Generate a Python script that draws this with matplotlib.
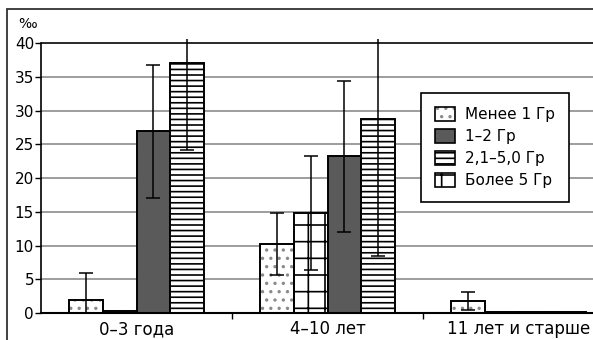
import numpy as np
import matplotlib.pyplot as plt
from matplotlib.patches import Patch, Rectangle
from matplotlib.legend_handler import HandlerTuple

plt.rcParams['font.family'] = ['DejaVu Sans']
plt.rcParams['hatch.linewidth'] = 1.2

# данные
categories = ['0–3 года', '4–10 лет', '11 лет и старше']
labels = ['Менее 1 Гр', '1–2 Гр', '2,1–5,0 Гр', 'Более 5 Гр']

less1 = [2.0, 10.2, 1.8]
less1_err = [3.9, 4.6, 1.3]
g1_2 = [26.9, 23.2, 0.15]
g1_2_err = [9.9, 11.2, 0.0]
g2_5 = [37.1, 28.8, 0.15]
g2_5_err = [13.0, 20.4, 0.0]
more5 = [0.3, 14.8, 0.15]
more5_err = [0.0, 8.5, 0.0]

W, H = 593, 340
fig = plt.figure(figsize=(W / 100, H / 100), dpi=100)
ax = fig.add_axes([41 / W, 27 / H, 3 * 191 / W, 274 / H])

x = np.arange(len(categories))
w = 0.178

# порядок столбцов в группе: <1, >5, 1-2, 2.1-5
series = [
    (less1, less1_err, -1.5, dict(facecolor='white', hatch='..')),
    (more5, more5_err, -0.5, dict(facecolor='white', hatch='+')),
    (g1_2, g1_2_err, 0.5, dict(facecolor='#5a5a5a')),
    (g2_5, g2_5_err, 1.5, dict(facecolor='white', hatch='---')),
]

for vals, errs, off, style in series:
    pos = x + off * w
    if style.get('hatch') == '..':
        ax.bar(pos, vals, w, edgecolor='#8a8a8a', linewidth=0, zorder=2, **style)
        ax.bar(pos, vals, w, facecolor='none', edgecolor='black', linewidth=1.4, zorder=2.1)
    else:
        ax.bar(pos, vals, w, edgecolor='black', linewidth=1.4, zorder=2, **style)
    e = np.array(errs)
    m = e > 0
    ax.errorbar(pos[m], np.array(vals)[m], yerr=e[m], fmt='none', ecolor='black',
                elinewidth=1.1, capsize=5, capthick=1.1, zorder=3)

ax.set_xlim(-0.5, 2.5)
ax.set_ylim(0, 40.6)
ax.set_yticks(range(0, 41, 5))
ax.yaxis.grid(True, color='#8c8c8c', linewidth=1.2)
ax.set_axisbelow(True)
ax.axhline(40, color='#222222', linewidth=1.3, zorder=0.6)

ax.spines['top'].set_visible(False)
ax.spines['right'].set_visible(False)
ax.spines['left'].set_bounds(0, 40)
ax.spines['left'].set_linewidth(1.2)
ax.spines['bottom'].set_linewidth(1.5)

ax.set_xticks(x)
ax.set_xticklabels(categories, fontsize=12)
ax.tick_params(axis='x', length=0, pad=5)
ax.set_xticks([0.5, 1.5], minor=True)
ax.tick_params(axis='x', which='minor', length=4, width=1, direction='out')
ax.tick_params(axis='y', length=4, width=1, direction='out', pad=1, labelsize=11)

fig.text(18 / W, 1 - 24 / H, '‰', fontsize=10, va='center', ha='left')

# рамка вокруг рисунка
fig.add_artist(Rectangle((7 / W, -0.2), 1.5, 0.2 + 1 - 9 / H, transform=fig.transFigure,
                         fill=False, edgecolor='#333333', linewidth=1.3))

# легенда
h_less = (Patch(facecolor='white', edgecolor='#8a8a8a', hatch='..', linewidth=0),
          Patch(facecolor='none', edgecolor='black', linewidth=1.2))
h_12 = Patch(facecolor='#5a5a5a', edgecolor='black', linewidth=1.2)
h_25 = Patch(facecolor='white', edgecolor='black', hatch='---', linewidth=1.2)
h_5 = Patch(facecolor='white', edgecolor='black', hatch='+', linewidth=1.2)
leg = fig.legend([h_less, h_12, h_25, h_5], labels,
                 handler_map={tuple: HandlerTuple(ndivide=1)},
                 loc='upper left', bbox_to_anchor=(421 / W, 1 - 93 / H),
                 bbox_transform=fig.transFigure, borderaxespad=0,
                 fontsize=11, fancybox=False, framealpha=1, edgecolor='black',
                 handlelength=1.3, handleheight=1.1, handletextpad=0.7,
                 labelspacing=0.42, borderpad=0.9)
leg.get_frame().set_linewidth(1.2)

fig.savefig('out.png', dpi=100)
